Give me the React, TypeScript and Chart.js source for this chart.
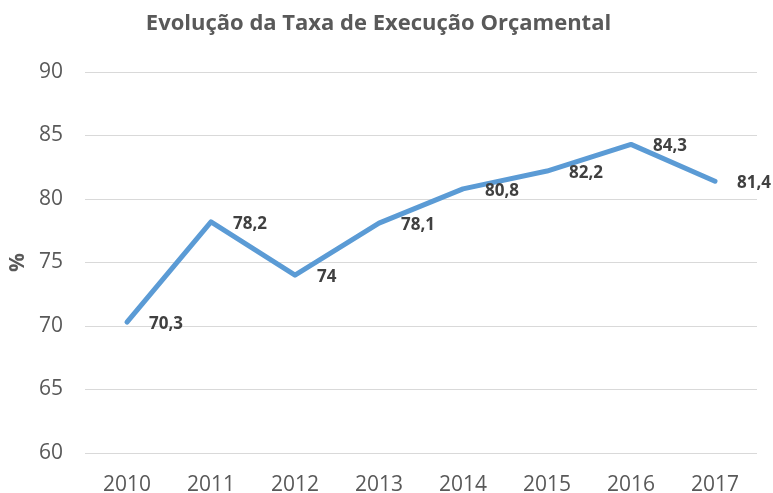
import React, { useEffect, useRef } from "react";
import { Chart, registerables } from "chart.js";

Chart.register(...registerables);

const categories = ["2010", "2011", "2012", "2013", "2014", "2015", "2016", "2017"];
const values = [70.3, 78.2, 74, 78.1, 80.8, 82.2, 84.3, 81.4];
const valueLabels = ["70,3", "78,2", "74", "78,1", "80,8", "82,2", "84,3", "81,4"];
const titleText = "Evolução da Taxa de Execução Orçamental";
const yTitle = "%";

const FONT = "'Open Sans', sans-serif";

const labelPlugin = {
  id: "valueLabels",
  afterDatasetsDraw(chart: any) {
    const ctx = chart.ctx;
    const meta = chart.getDatasetMeta(0);
    ctx.save();
    ctx.font = `bold 17px ${FONT}`;
    ctx.fillStyle = "#404040";
    ctx.textAlign = "left";
    ctx.textBaseline = "middle";
    meta.data.forEach((pt: any, i: number) => {
      ctx.fillText(valueLabels[i], pt.x + 22, pt.y + 2);
    });
    ctx.restore();
  },
};

export default function App() {
  const ref = useRef<HTMLCanvasElement | null>(null);
  useEffect(() => {
    document.body.style.margin = "0";
    const chart = new Chart(ref.current as HTMLCanvasElement, {
      type: "line",
      data: {
        labels: categories,
        datasets: [
          {
            data: values,
            borderColor: "#5B9BD5",
            borderWidth: 5,
            borderCapStyle: "round",
            borderJoinStyle: "round",
            pointRadius: 0,
            tension: 0,
            fill: false,
          },
        ],
      },
      options: {
        responsive: false,
        animation: false,
        layout: { padding: { left: 0, right: 16, top: 0, bottom: 0 } },
        plugins: {
          legend: { display: false },
          tooltip: { enabled: false },
          title: {
            display: true,
            text: titleText,
            color: "#595959",
            font: { family: FONT, size: 22, weight: "bold" },
            padding: { top: 11, bottom: 34.6 },
          },
        },
        scales: {
          x: {
            offset: true,
            grid: { display: false, drawTicks: false },
            border: { display: false },
            ticks: {
              color: "#595959",
              font: { family: FONT, size: 21 },
              padding: 19,
              maxRotation: 0,
            },
            afterFit(scale: any) {
              scale.height = 40;
            },
          },
          y: {
            min: 60,
            max: 90,
            grid: { color: "#D9D9D9", lineWidth: 1, drawTicks: false },
            border: { display: false },
            ticks: {
              stepSize: 5,
              color: "#595959",
              font: { family: FONT, size: 21 },
              padding: 22,
            },
            title: {
              display: true,
              text: yTitle,
              color: "#595959",
              font: { family: FONT, size: 21, weight: "bold" },
              padding: { top: 5, bottom: 0 },
            },
            afterFit(scale: any) {
              scale.width = 85;
            },
          },
        },
      },
      plugins: [labelPlugin],
    } as any);
    return () => chart.destroy();
  }, []);
  return <canvas ref={ref} width={773} height={493} style={{ display: "block" }} />;
}
